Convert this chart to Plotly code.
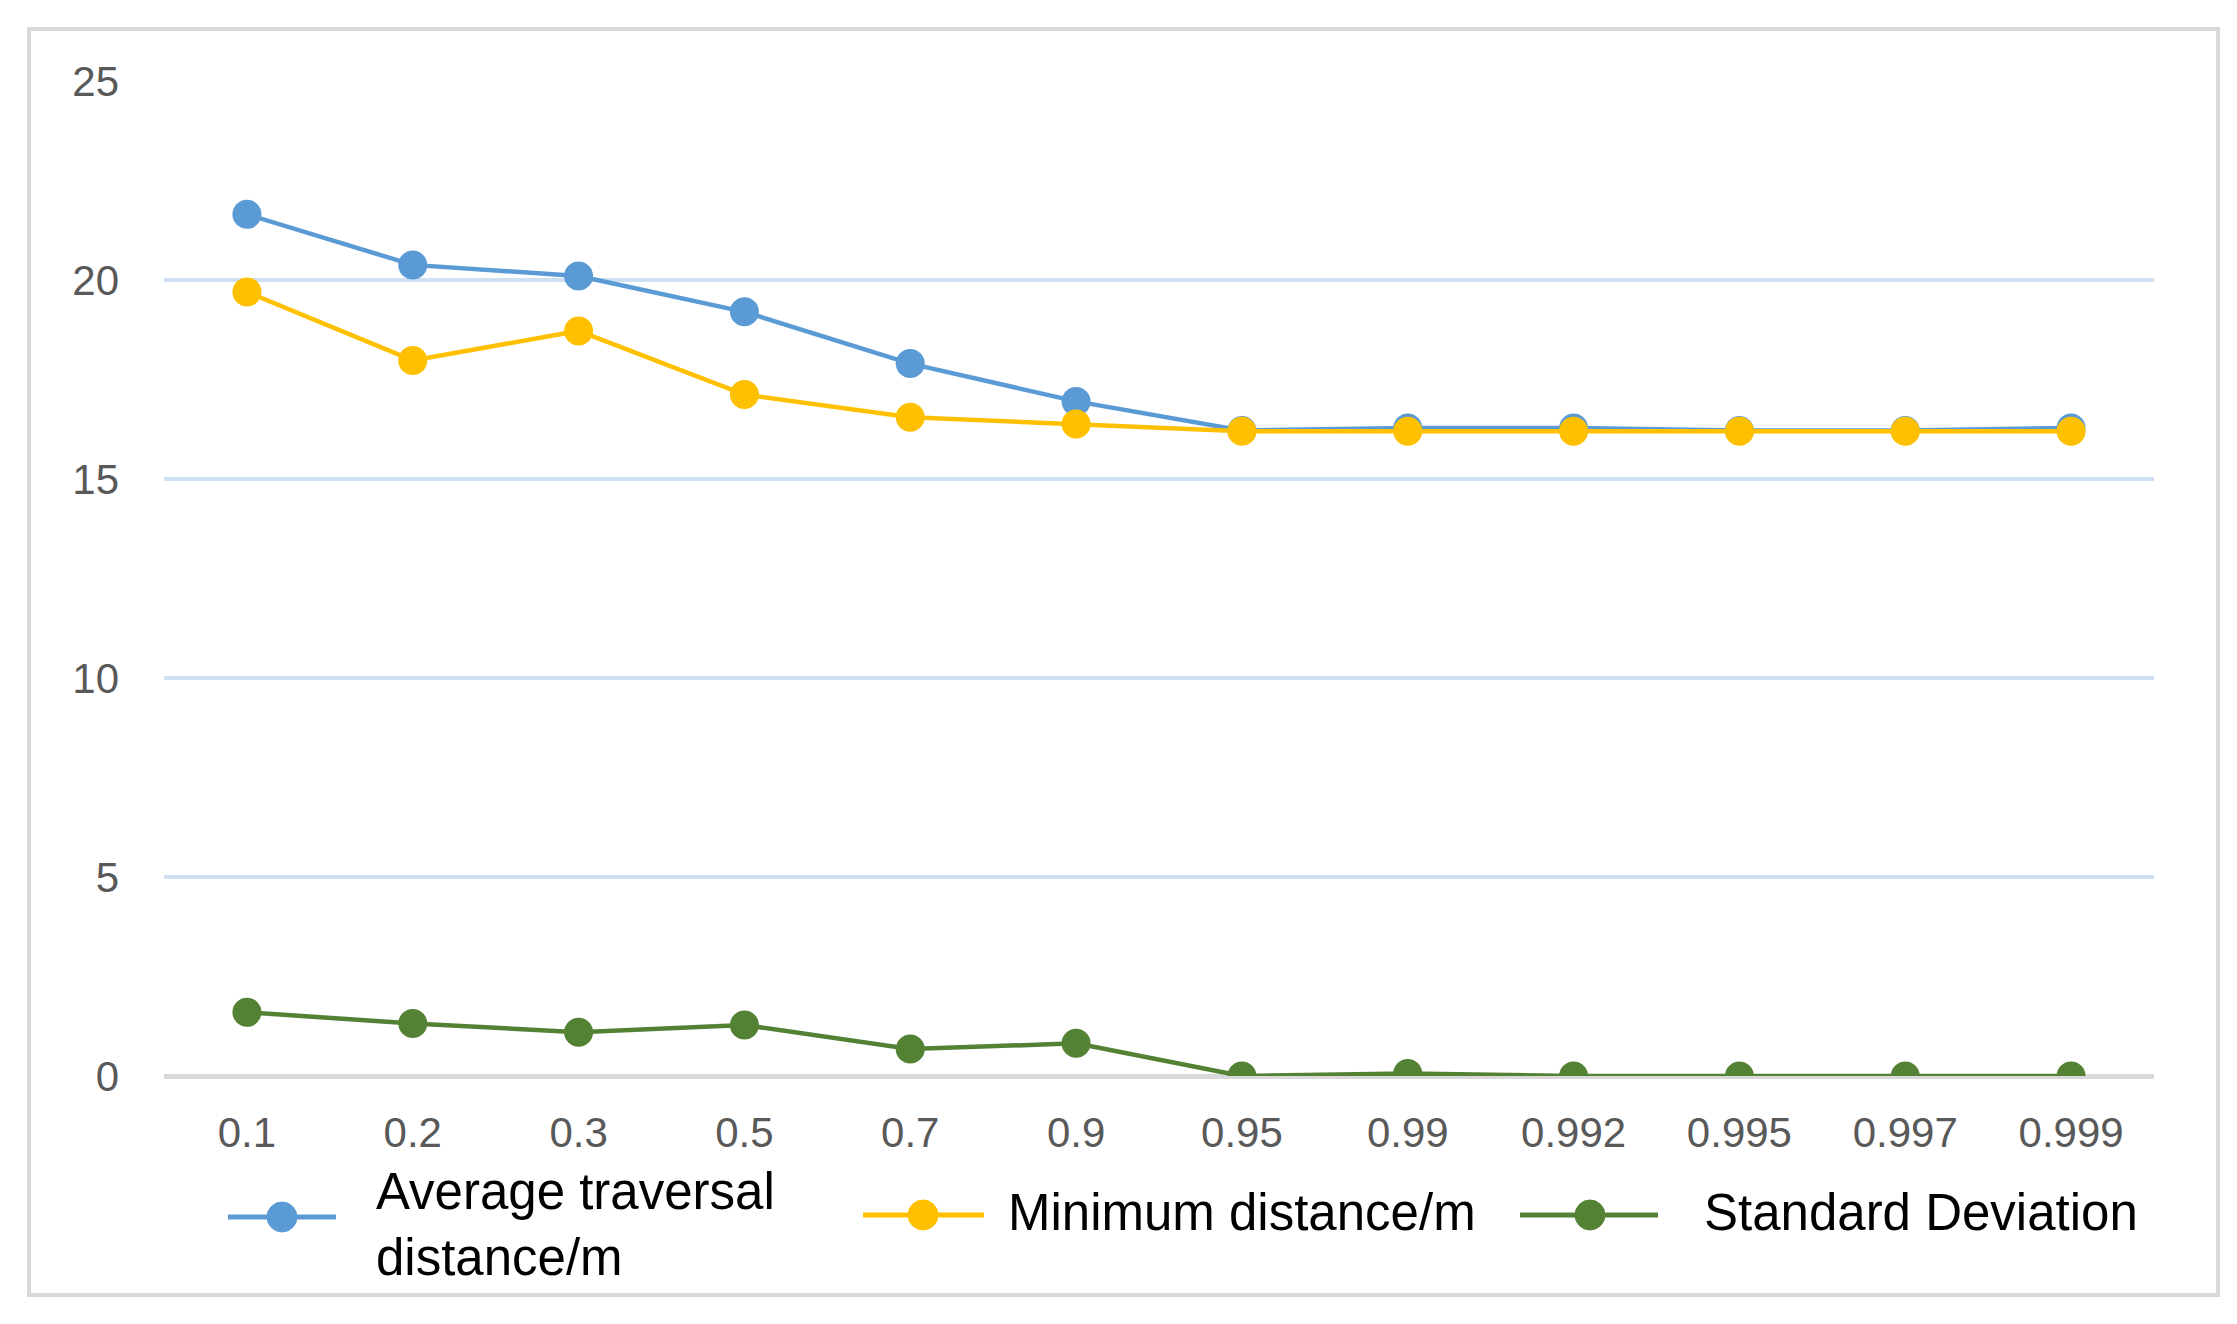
import plotly.graph_objects as go

categories = ["0.1", "0.2", "0.3", "0.5", "0.7", "0.9", "0.95", "0.99", "0.992", "0.995", "0.997", "0.999"]
avg_traversal = [21.65, 20.38, 20.1, 19.2, 17.9, 16.95, 16.22, 16.28, 16.28, 16.22, 16.22, 16.28]
min_distance = [19.7, 17.98, 18.72, 17.12, 16.55, 16.38, 16.2, 16.2, 16.2, 16.2, 16.2, 16.2]
std_dev = [1.6, 1.32, 1.1, 1.28, 0.68, 0.82, 0.0, 0.06, 0.0, 0.0, 0.0, 0.0]
y_ticks = [0, 5, 10, 15, 20, 25]
series_names = ["Average traversal<br>distance/m", "Minimum distance/m", "Standard Deviation"]
series_colors = ["#5B9BD5", "#FFC000", "#548235"]
series_values = [avg_traversal, min_distance, std_dev]

W, H = 2237, 1324
L, R, T, B = 156, 91, 73, 256
PW, PH = W - L - R, H - T - B
OFF = 8  # page offset of the figure in the screenshot


def px(x):
    return (x - OFF - L) / PW


def py(y):
    return 1 - (y - OFF - T) / PH


fig = go.Figure()
for name, vals, color in zip(series_names, series_values, series_colors):
    fig.add_trace(go.Scatter(
        x=categories, y=vals, name=name, mode="lines+markers",
        line=dict(color=color, width=4.5),
        marker=dict(color=color, size=29),
        showlegend=False,
    ))

shapes = [dict(
    type="rect", xref="paper", yref="paper",
    x0=px(29), x1=px(2218), y0=py(1295), y1=py(29),
    line=dict(color="#D9D9D9", width=4), fillcolor="rgba(0,0,0,0)", layer="below",
)]
annotations = []

# manual legend: (line x0, line x1, marker x, text x, line y, text y)
legend_pos = [(228, 336, 282, 374, 1217, 1224), (863, 984, 923, 1006, 1215, 1212), (1520, 1658, 1590, 1702, 1215, 1212)]
for (lx0, lx1, mx, tx, ly, ty), name, color in zip(legend_pos, series_names, series_colors):
    shapes.append(dict(type="line", xref="paper", yref="paper",
                       x0=px(lx0), x1=px(lx1), y0=py(ly), y1=py(ly),
                       line=dict(color=color, width=5)))
    shapes.append(dict(type="circle", xref="paper", yref="paper",
                       xsizemode="pixel", ysizemode="pixel",
                       xanchor=px(mx), yanchor=py(ly),
                       x0=-15, x1=15, y0=-15, y1=15,
                       fillcolor=color, line=dict(color=color, width=1)))
    annotations.append(dict(
        xref="paper", yref="paper", x=px(tx), y=py(ty),
        xanchor="left", yanchor="middle", align="left", showarrow=False,
        text=name, font=dict(size=51, color="#000000", family="Liberation Sans"),
    ))

fig.update_layout(
    width=W, height=H,
    margin=dict(l=L, r=R, t=T, b=B),
    paper_bgcolor="white", plot_bgcolor="white",
    font=dict(family="Liberation Sans", color="#000000"),
    showlegend=False,
    xaxis=dict(
        type="category", range=[-0.5, 11.5],
        showgrid=False, zeroline=False, showline=False,
        ticks="", tickfont=dict(size=42, color="#595959"),
        ticklabelstandoff=28,
    ),
    yaxis=dict(
        range=[0, 25], tickvals=y_ticks,
        showgrid=True, gridcolor="#CFE0F2", gridwidth=4,
        zeroline=True, zerolinecolor="#D9D9D9", zerolinewidth=5,
        showline=False, ticks="",
        tickfont=dict(size=42, color="#595959"),
        ticklabelstandoff=44,
    ),
    shapes=shapes,
    annotations=annotations,
)

fig.write_html("out.html")
